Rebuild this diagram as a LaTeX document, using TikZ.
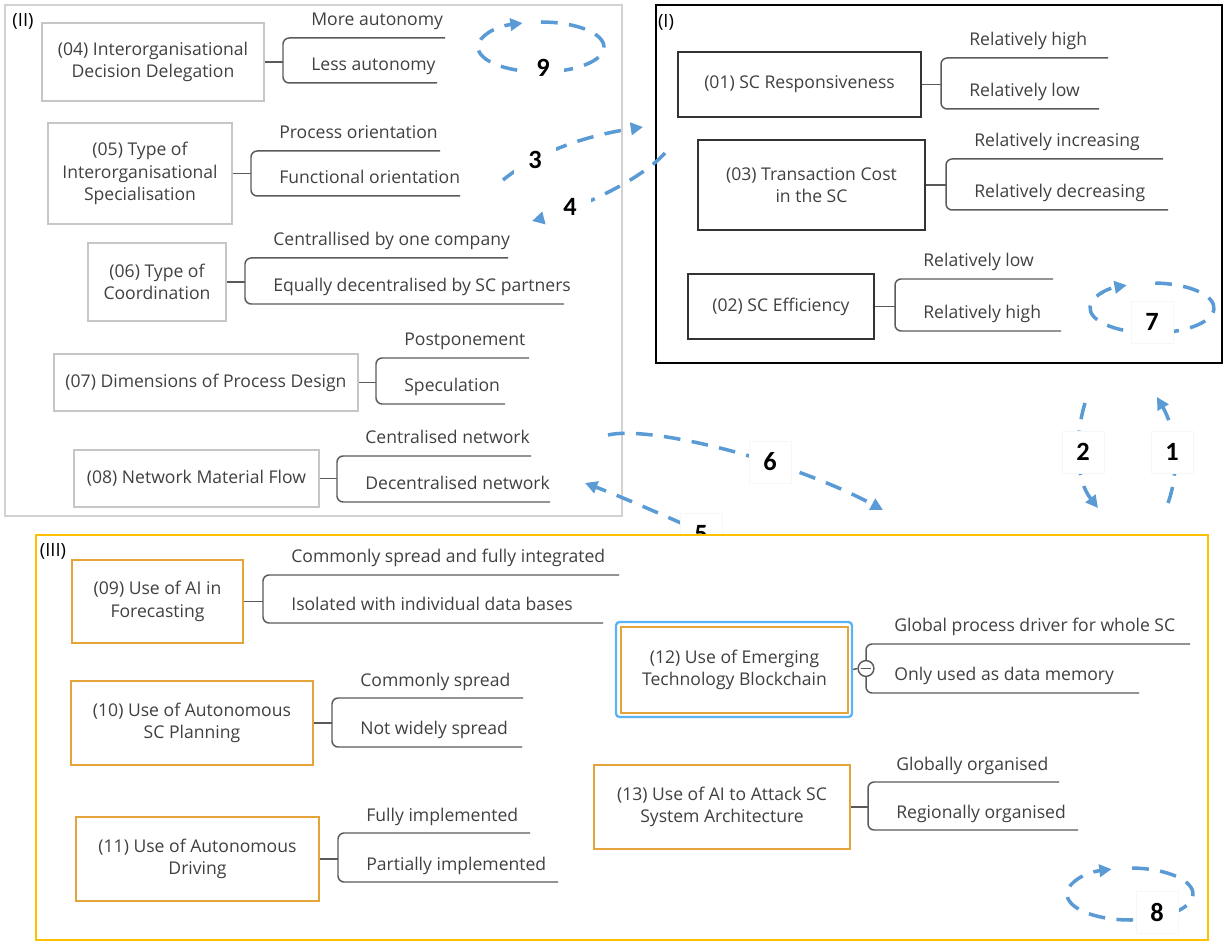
\documentclass[tikz,border=0pt]{standalone}
\usepackage{fontspec}
\setmainfont{Open Sans}
\newfontfamily\numfont{Carlito}
\usetikzlibrary{arrows.meta}
\definecolor{txt}{HTML}{404040}
\definecolor{lgray}{HTML}{C6C6C6}
\definecolor{pgray}{HTML}{D2D2D2}
\definecolor{brc}{HTML}{5A5A5A}
\definecolor{orng}{HTML}{E5A43A}
\definecolor{ylw}{HTML}{FFC000}
\definecolor{hlblue}{HTML}{5CB3F2}
\definecolor{arrblue}{HTML}{5B9BD5}

% bracket with two underlined options to the right of a box
% #1 box name, #2 bracket x, #3 upper line y, #4 upper line end x,
% #5 lower line y, #6 lower line end x, #7 upper text, #8 lower text
\newcommand\leaves[8]{%
  \coordinate (#1-b) at (#2,{(#3+#5)/2});
  \coordinate (#1-te) at (#4,#3);
  \coordinate (#1-be) at (#6,#5);
  \node[leaf] (#1-t) at ({#2+28},{#3-12}) {#7};
  \node[leaf] (#1-u) at ({#2+28},{#5-12}) {#8};
  \draw[br] (#1-te) -| (#1-b) |- (#1-be);
}
\newcommand\stem[1]{\draw[br] (#1.east) -- (#1.east -| #1-b);}

\begin{document}
\begin{tikzpicture}[x=0.02cm, y=-0.02cm,
  every node/.style={inner sep=0pt},
  wh/.style n args={2}{minimum width=#1*0.02cm, minimum height=#2*0.02cm},
  box/.style={draw, align=center, text=txt, font=\fontsize{10}{12.8}\selectfont},
  gbox/.style={box, draw=lgray, line width=1.3pt},
  kbox/.style={box, draw=black!80, line width=1.4pt},
  obox/.style={box, draw=orng, line width=1.3pt},
  leaf/.style={anchor=base west, text=txt, font=\fontsize{10}{12.8}\selectfont},
  br/.style={draw=brc, line width=0.85pt, rounded corners=3.5pt},
  flow/.style={draw=arrblue, line width=2pt, dash pattern=on 9.5pt off 6.5pt,
    -{Triangle[length=7pt,width=7pt]}},
  num/.style={fill=white, font=\numfont\bfseries\fontsize{15}{15}\selectfont,
    minimum width=24pt, minimum height=24pt},
  numb/.style={num, draw=black!3, line width=0.4pt},
  plabel/.style={text=black, font=\fontsize{10.4}{12.8}\selectfont}
]
\useasboundingbox (0,0) rectangle (1225,942);

% ---------- panel (II) ----------
\draw[pgray, line width=1.2pt] (5,5) rectangle (622,516);
\node[plabel] (pII) at (23,21) {(II)};

\node[gbox, wh={222}{78}] (n04) at (153,62) {(04) Interorganisational\\Decision Delegation};
\leaves{n04}{283}{38}{445}{83}{437}{More autonomy}{Less autonomy}
\stem{n04}

\node[gbox, wh={184}{101}] (n05) at (140,173.5) {(05) Type of\\Interorganisational\\Specialisation};
\leaves{n05}{251}{151}{440}{196}{460}{Process orientation}{Functional orientation}
\stem{n05}

\node[gbox, wh={138}{78}] (n06) at (157,282) {(06) Type of\\Coordination};
\leaves{n06}{245}{258}{508}{304}{564}{Centrallised by one company}{Equally decentralised by SC partners}
\stem{n06}

\node[gbox, wh={304}{57}] (n07) at (206,382.5) {(07) Dimensions of Process Design};
\leaves{n07}{376}{358}{529}{404}{505}{Postponement}{Speculation}
\stem{n07}

\node[gbox, wh={245}{57}] (n08) at (196.5,478.5) {(08) Network Material Flow};
\leaves{n08}{337}{456}{531}{502}{550}{Centralised network}{Decentralised network}
\stem{n08}

% ---------- panel (I) ----------
\draw[black, line width=1.3pt] (656,5) rectangle (1222,363);
\node[plabel] (pI) at (666,22) {(I)};

\node[kbox, wh={243}{65}] (n01) at (799.5,84.5) {(01) SC Responsiveness};
\leaves{n01}{941}{58}{1108}{109}{1099}{Relatively high}{Relatively low}
\stem{n01}

\node[kbox, wh={227}{90}] (n03) at (811.5,185) {(03) Transaction Cost\\in the SC};
\leaves{n03}{946}{159}{1163}{210}{1168}{Relatively increasing}{Relatively decreasing}
\stem{n03}

\node[kbox, wh={186}{65}] (n02) at (781,306.5) {(02) SC Efficiency};
\leaves{n02}{895}{279}{1053}{331}{1061}{Relatively low}{Relatively high}
\stem{n02}

% ---------- loops ----------
\coordinate (c9) at (541,47);
\draw[flow] (c9) ++(-90:63 and 25) arc[start angle=-90, end angle=253, x radius=63, y radius=25];
\node[num] (l9) at (543,68) {9};

\coordinate (c7) at (1152,308);
\draw[flow] (c7) ++(-87:62 and 25) arc[start angle=-87, end angle=246, x radius=62, y radius=25];
\node[numb] (l7) at (1152,322) {7};

% ---------- links between panels ----------
\coordinate (a3s) at (503,180);
\coordinate (a3e) at (643,127);
\draw[flow] (a3s) .. controls (540,150) and (590,135) .. (a3e);
\node[num] (l3) at (535,160) {3};

\coordinate (a4s) at (665,153);
\coordinate (a4e) at (532,221);
\draw[flow] (a4s) .. controls (640,181) and (575,210) .. (a4e);
\node[num] (l4) at (570,207) {4};

\coordinate (a6s) at (608,435);
\coordinate (a6e) at (883,510);
\draw[flow] (a6s) .. controls (650,425) and (790,460) .. (a6e);
\node[numb] (l6) at (770,462) {6};

\coordinate (a5s) at (735,547);
\coordinate (a5e) at (585,483);
\draw[flow] (a5s) .. controls (690,527) and (630,500) .. (a5e);
\node[numb] (l5) at (701,534) {5};

\coordinate (a2s) at (1085,403);
\coordinate (a2e) at (1098,508);
\draw[flow] (a2s) .. controls (1074,440) and (1076,480) .. (a2e);
\node[numb] (l2) at (1083,452) {2};

\coordinate (a1s) at (1168,503);
\coordinate (a1e) at (1157,397);
\draw[flow] (a1s) .. controls (1180,470) and (1176,430) .. (a1e);
\node[numb] (l1) at (1172,452) {1};

% ---------- panel (III) ----------
\draw[ylw, line width=1.2pt, fill=white] (36,535) rectangle (1208,940);
\node[plabel] (pIII) at (53,551) {(III)};

\node[obox, wh={171}{83}] (n09) at (157.5,601.5) {(09) Use of AI in\\Forecasting};
\leaves{n09}{263}{575}{619}{623}{603}{Commonly spread and fully integrated}{Isolated with individual data bases}
\stem{n09}

\node[obox, wh={242}{84}] (n10) at (192,723) {(10) Use of Autonomous\\SC Planning};
\leaves{n10}{332}{698}{523}{747}{522}{Commonly spread}{Not widely spread}
\stem{n10}

\node[obox, wh={243}{84}] (n11) at (197.5,859) {(11) Use of Autonomous\\Driving};
\leaves{n11}{338}{833}{530}{882}{558}{Fully implemented}{Partially implemented}
\stem{n11}

\node[draw=hlblue, line width=1.3pt, rounded corners=2pt, wh={236}{95}] (n12o) at (734,669.5) {};
\node[obox, wh={227}{86}] (n12) at (734.5,670) {(12) Use of Emerging\\Technology Blockchain};
\leaves{n12}{866}{644}{1190}{693}{1139}{Global process driver for whole SC}{Only used as data memory}
\node[circle, draw=brc, line width=0.8pt, fill=white, minimum size=9pt] (n12c) at (n12-b) {};
\draw[brc, line width=0.8pt] ([xshift=1.8pt]n12c.west) -- ([xshift=-1.8pt]n12c.east);
\draw[br] (n12o.east) -- (n12c.west);

\node[obox, wh={256}{84}] (n13) at (722,807) {(13) Use of AI to Attack SC\\System Architecture};
\leaves{n13}{868}{782}{1059}{830}{1078}{Globally organised}{Regionally organised}
\stem{n13}

\coordinate (c8) at (1130,894);
\draw[flow] (c8) ++(-88:63 and 26) arc[start angle=-88, end angle=253, x radius=63, y radius=26];
\node[numb] (l8) at (1157,912) {8};

\end{tikzpicture}
\end{document}
